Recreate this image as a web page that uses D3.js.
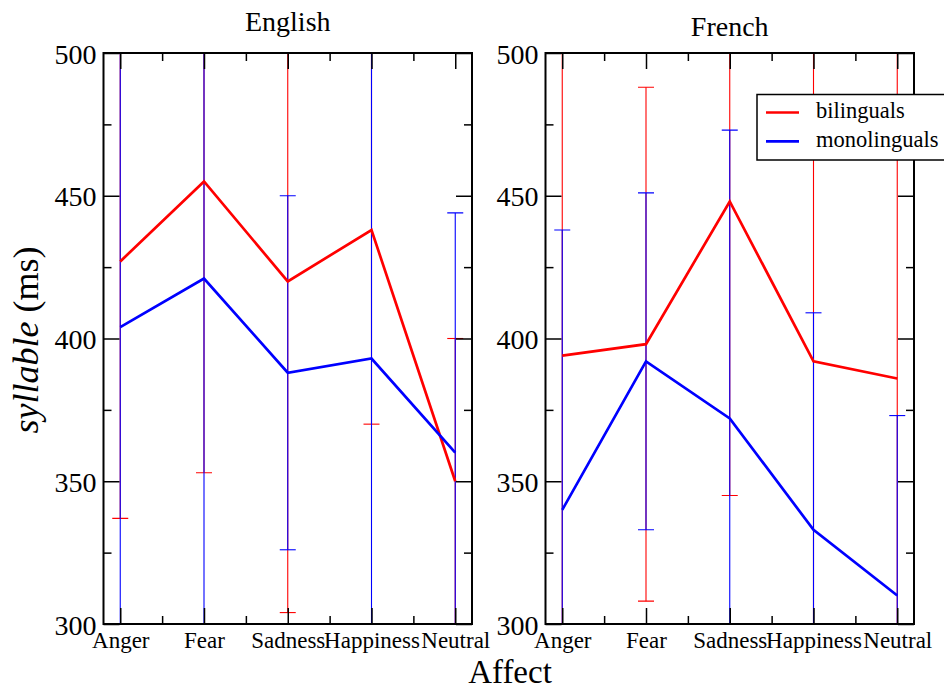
<!DOCTYPE html>
<html>
<head>
<meta charset="utf-8">
<script src="https://cdn.jsdelivr.net/npm/d3@7"></script>
<style>
  body { margin: 0; background: #fff; }
  svg { display: block; }
  svg text { font-family: "Liberation Serif", "Times New Roman", serif; }
</style>
</head>
<body>
<svg id="chart" width="944" height="689"></svg>
<script>
// Affect categories on the x axis
const categories = ["Anger", "Fear", "Sadness", "Happiness", "Neutral"];

// Mean syllable durations (ms) and error half-widths, English stimuli
const englishBilinguals = [427, 455, 420, 438, 350];
const englishBilingualsErr = [90, 102, 116, 68, 50];
const englishMonolinguals = [404, 421, 388, 393, 360];
const englishMonolingualsErr = [110, 125, 62, 110, 84];

// Mean syllable durations (ms) and error half-widths, French stimuli
const frenchBilinguals = [394, 398, 448, 392, 386];
const frenchBilingualsErr = [110, 90, 103, 112, 118];
const frenchMonolinguals = [340, 392, 372, 333, 310];
const frenchMonolingualsErr = [98, 59, 101, 76, 63];

const yMajorTicks = [300, 350, 400, 450, 500];
const yMinorTicks = [325, 375, 425, 475];

const seriesNames = ["bilinguals", "monolinguals"];
const seriesColors = ["#ff0000", "#0000ff"];

const panels = [
  { title: "English", left: 103.5, titleY: 31,
    series: [
      { values: englishBilinguals, err: englishBilingualsErr },
      { values: englishMonolinguals, err: englishMonolingualsErr }
    ] },
  { title: "French", left: 545.5, titleY: 36,
    series: [
      { values: frenchBilinguals, err: frenchBilingualsErr },
      { values: frenchMonolinguals, err: frenchMonolingualsErr }
    ] }
];

const svg = d3.select("#chart");
const plotTop = 53, plotBottom = 624, panelW = 368.5;
const majorLen = 16, minorLen = 8, capHalf = 8;

const y = d3.scaleLinear().domain([300, 500]).range([plotBottom, plotTop]);

panels.forEach((p, pi) => {
  const x = d3.scalePoint().domain(categories).range([p.left, p.left + panelW]).padding(0.2);
  const minorX = categories.slice(1).map((c, i) => (x(categories[i]) + x(c)) / 2);

  const clipId = "clip" + pi;
  svg.append("clipPath").attr("id", clipId)
    .append("rect").attr("x", p.left).attr("y", plotTop).attr("width", panelW).attr("height", plotBottom - plotTop);

  const g = svg.append("g");
  const plot = g.append("g").attr("clip-path", `url(#${clipId})`);

  // error bars (red first, blue over it)
  p.series.forEach((s, si) => {
    const eb = plot.append("g").attr("stroke", seriesColors[si]).attr("stroke-width", 1.1).attr("fill", "none");
    categories.forEach((c, i) => {
      const cx = x(c), hi = s.values[i] + s.err[i], lo = s.values[i] - s.err[i];
      eb.append("line").attr("x1", cx).attr("x2", cx).attr("y1", y(hi)).attr("y2", y(lo));
      eb.append("line").attr("x1", cx - capHalf).attr("x2", cx + capHalf).attr("y1", y(hi)).attr("y2", y(hi));
      eb.append("line").attr("x1", cx - capHalf).attr("x2", cx + capHalf).attr("y1", y(lo)).attr("y2", y(lo));
    });
  });

  // mean lines
  const line = d3.line().x((d, i) => x(categories[i])).y(d => y(d));
  p.series.forEach((s, si) => {
    plot.append("path").datum(s.values)
      .attr("d", line).attr("fill", "none")
      .attr("stroke", seriesColors[si]).attr("stroke-width", 2.7)
      .attr("stroke-linejoin", "miter");
  });

  // axes with inward ticks
  const axisStyle = sel => {
    sel.attr("font-family", null).attr("font-size", null);
    sel.select(".domain").remove();
    sel.selectAll(".tick line").attr("stroke", "#000").attr("stroke-width", 1.5);
  };

  const xb = g.append("g").attr("transform", `translate(0,${plotBottom})`)
    .call(d3.axisBottom(x).tickSize(-majorLen).tickPadding(8));
  axisStyle(xb);
  xb.selectAll("text").style("font-size", "23px").attr("fill", "#000");
  g.append("g").attr("transform", `translate(0,${plotBottom})`)
    .call(d3.axisBottom(d3.scaleIdentity()).tickValues(minorX).tickSize(-minorLen).tickFormat(""))
    .call(axisStyle);

  g.append("g").attr("transform", `translate(0,${plotTop})`)
    .call(d3.axisTop(x).tickSize(-majorLen).tickFormat(""))
    .call(axisStyle);
  g.append("g").attr("transform", `translate(0,${plotTop})`)
    .call(d3.axisTop(d3.scaleIdentity()).tickValues(minorX).tickSize(-minorLen).tickFormat(""))
    .call(axisStyle);

  const yl = g.append("g").attr("transform", `translate(${p.left},0)`)
    .call(d3.axisLeft(y).tickValues(yMajorTicks).tickSize(-majorLen).tickPadding(7).tickFormat(d3.format("d")));
  axisStyle(yl);
  yl.selectAll("text").style("font-size", "28px").attr("fill", "#000").attr("dy", "0.36em");
  g.append("g").attr("transform", `translate(${p.left},0)`)
    .call(d3.axisLeft(y).tickValues(yMinorTicks).tickSize(-minorLen).tickFormat(""))
    .call(axisStyle);

  g.append("g").attr("transform", `translate(${p.left + panelW},0)`)
    .call(d3.axisRight(y).tickValues(yMajorTicks).tickSize(-majorLen).tickFormat(""))
    .call(axisStyle);
  g.append("g").attr("transform", `translate(${p.left + panelW},0)`)
    .call(d3.axisRight(y).tickValues(yMinorTicks).tickSize(-minorLen).tickFormat(""))
    .call(axisStyle);

  // frame
  g.append("rect").attr("x", p.left).attr("y", plotTop).attr("width", panelW).attr("height", plotBottom - plotTop)
    .attr("fill", "none").attr("stroke", "#000").attr("stroke-width", 2);

  // panel title
  g.append("text").attr("x", p.left + panelW / 2).attr("y", p.titleY)
    .attr("text-anchor", "middle").style("font-size", "28px").attr("fill", "#000").text(p.title);
});

// legend
const legend = svg.append("g");
legend.append("rect").attr("x", 757).attr("y", 94.5).attr("width", 200).attr("height", 65.5)
  .attr("fill", "#fff").attr("stroke", "#000").attr("stroke-width", 1.5);
seriesNames.forEach((name, i) => {
  const ly = 112.5 + i * 28.8;
  legend.append("line").attr("x1", 766).attr("x2", 799).attr("y1", ly).attr("y2", ly)
    .attr("stroke", seriesColors[i]).attr("stroke-width", 2.7);
  legend.append("text").attr("x", 816).attr("y", ly + 5.5).style("font-size", "22.5px").attr("fill", "#000").text(name);
});

// shared axis titles
svg.append("text").attr("x", 510).attr("y", 683).attr("text-anchor", "middle")
  .style("font-size", "33px").attr("fill", "#000").text("Affect");

const yTitle = svg.append("text")
  .attr("transform", "translate(38,340) rotate(-90)")
  .attr("text-anchor", "middle").style("font-size", "36px").attr("fill", "#000");
yTitle.append("tspan").attr("font-style", "italic").text("syllable");
yTitle.append("tspan").text(" (ms)");
</script>
</body>
</html>
